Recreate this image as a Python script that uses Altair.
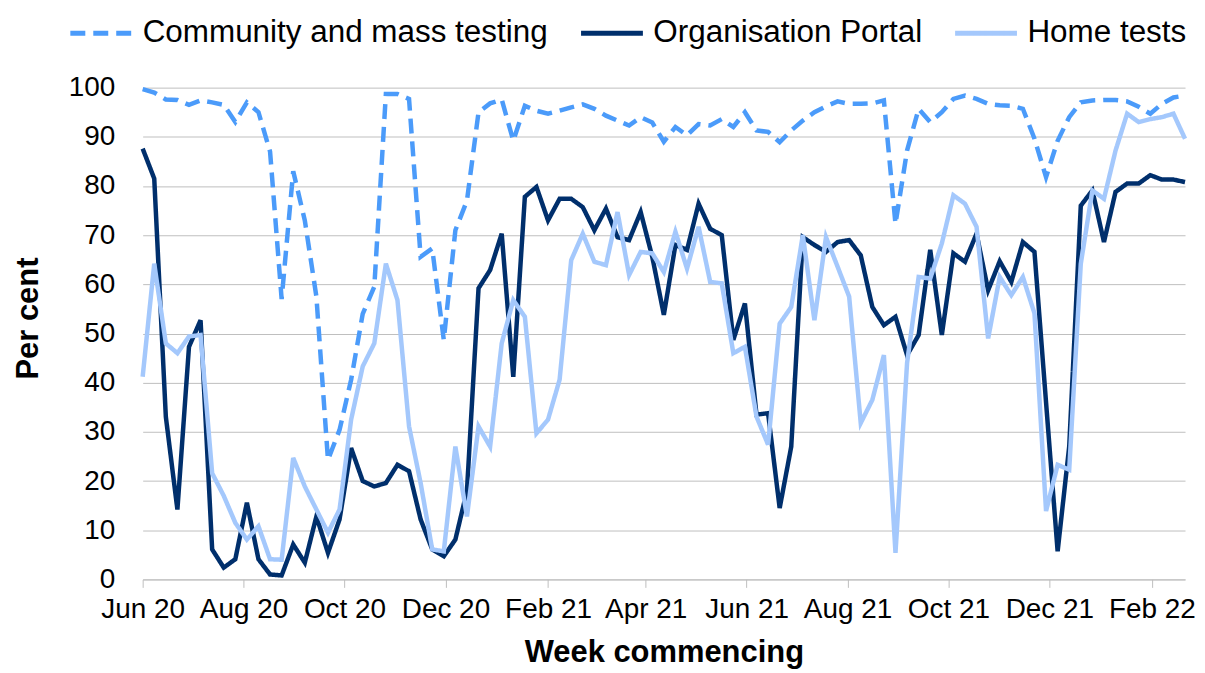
import altair as alt
import pandas as pd

# Weekly periods (week commencing), first week at the June 2020 axis start
weeks = pd.date_range("2020-06-01", periods=91, freq="7D").strftime("%Y-%m-%d").tolist()

community = [99.7, 99.0, 97.6, 97.5, 96.5, 97.4, 97.0, 96.5, 93.0, 97.0,
             95.0, 87.0, 57.0, 83.0, 73.0, 57.5, 24.3, 30.4, 40.6, 54.0,
             59.5, 98.7, 98.7, 97.7, 65.6, 67.3, 48.7, 71.0, 77.0, 95.0,
             96.8, 97.6, 89.2, 96.3, 95.3, 94.7, 95.3, 96.0, 96.6, 95.7,
             94.3, 93.3, 92.3, 94.0, 92.9, 89.0, 92.0, 90.3, 92.6, 92.3,
             93.6, 92.0, 95.0, 91.3, 91.0, 88.9, 91.3, 93.3, 95.0, 96.2,
             97.2, 96.7, 96.7, 96.8, 97.4, 72.3, 87.2, 95.7, 93.0, 95.0,
             97.7, 98.4, 97.7, 96.7, 96.4, 96.3, 95.7, 89.6, 81.8, 89.2,
             94.0, 97.0, 97.4, 97.5, 97.5, 97.2, 96.1, 94.7, 96.7, 98.0,
             98.4]

portal = [87.6, 81.5, 33.1, 14.2, 47.3, 52.7, 6.1, 2.4, 4.1, 15.6,
          4.1, 1.0, 0.8, 7.1, 3.4, 12.8, 5.4, 12.2, 26.7, 20.0,
          18.9, 19.6, 23.3, 22.0, 12.2, 6.1, 4.7, 8.1, 18.0, 59.2,
          62.9, 70.3, 41.2, 77.8, 79.8, 73.0, 77.4, 77.4, 75.7, 71.0,
          75.4, 69.6, 69.0, 74.7, 65.6, 53.8, 68.0, 67.0, 76.4, 71.3,
          70.0, 48.7, 56.1, 33.5, 33.8, 14.5, 27.0, 69.6, 68.0, 66.6,
          68.6, 69.0, 65.9, 55.4, 51.7, 53.4, 45.6, 49.7, 67.0, 49.7,
          66.3, 64.6, 70.3, 58.8, 64.7, 60.5, 68.6, 66.6, 36.0, 5.7,
          27.0, 76.0, 79.1, 68.6, 78.8, 80.5, 80.5, 82.2, 81.3, 81.3,
          80.8]

home = [41.2, 64.2, 48.0, 46.0, 49.4, 49.7, 21.6, 17.0, 11.5, 8.1,
        10.8, 4.1, 4.0, 24.7, 18.9, 14.2, 9.5, 14.2, 32.5, 43.3,
        48.0, 64.2, 56.8, 31.1, 19.6, 6.1, 5.7, 27.0, 12.8, 31.1,
        27.0, 48.0, 56.8, 53.4, 29.7, 32.5, 40.6, 64.9, 70.3, 64.6,
        63.9, 74.7, 61.9, 66.6, 66.3, 62.5, 70.7, 63.2, 71.7, 60.5,
        60.2, 46.0, 47.3, 33.1, 27.4, 52.0, 55.4, 70.0, 52.7, 69.6,
        63.6, 57.5, 31.8, 36.5, 45.6, 5.4, 44.0, 61.5, 61.2, 68.3,
        78.1, 76.4, 71.7, 49.0, 61.5, 57.8, 61.5, 54.1, 13.9, 23.3,
        22.3, 64.2, 79.1, 77.4, 87.2, 94.7, 93.0, 93.6, 94.0, 94.7,
        89.6]

series_names = ["Community and mass testing", "Organisation Portal", "Home tests"]
series_colors = ["#4B9BFA", "#002F6C", "#A4C8FC"]
series_dash = [[15, 8], [1, 0], [1, 0]]
tick_months = [(2020, 6), (2020, 8), (2020, 10), (2020, 12), (2021, 2), (2021, 4),
               (2021, 6), (2021, 8), (2021, 10), (2021, 12), (2022, 2)]
y_ticks = [0, 10, 20, 30, 40, 50, 60, 70, 80, 90, 100]

rows = []
for name, vals in zip(series_names, [community, portal, home]):
    for d, v in zip(weeks, vals):
        rows.append({"week": d, "series": name, "value": v})
df = pd.DataFrame(rows)

FONT = "Liberation Sans"

x_enc = alt.X(
    "week:T",
    scale=alt.Scale(
        type="utc",
        nice=False,
        domain=[alt.DateTime(year=2020, month=6, date=1, utc=True),
                alt.DateTime(year=2022, month=2, date=21, utc=True)],
    ),
    axis=alt.Axis(
        values=[alt.DateTime(year=y, month=m, date=1, utc=True) for y, m in tick_months],
        labelExpr="utcFormat(datum.value, '%b %y')",
        labelOverlap=False,
        labelFlush=False,
        labelFontSize=28,
        labelFont=FONT,
        labelColor="#000000",
        labelPadding=8,
        tickSize=8,
        tickColor="#BFBFBF",
        domainColor="#BFBFBF",
        grid=False,
        title="Week commencing",
        titleFont=FONT,
        titleFontSize=31,
        titleFontWeight="bold",
        titleColor="#000000",
        titlePadding=14,
    ),
)

y_enc = alt.Y(
    "value:Q",
    scale=alt.Scale(domain=[0, 100], nice=False),
    axis=alt.Axis(
        values=y_ticks,
        grid=True,
        gridColor="#BFBFBF",
        domain=False,
        ticks=False,
        labelFontSize=28,
        labelFont=FONT,
        labelColor="#000000",
        labelPadding=28,
        title="Per cent",
        titleFont=FONT,
        titleFontSize=31,
        titleFontWeight="bold",
        titleColor="#000000",
        titlePadding=24,
        titleY=231,
    ),
)

color_enc = alt.Color("series:N", scale=alt.Scale(domain=series_names, range=series_colors),
                      legend=alt.Legend(title=None))
dash_enc = alt.StrokeDash("series:N", scale=alt.Scale(domain=series_names, range=series_dash),
                          legend=alt.Legend(title=None))

base = alt.Chart(df).mark_line(strokeWidth=4.5).encode(
    x=x_enc, y=y_enc, color=color_enc, strokeDash=dash_enc
)

layers = [base.transform_filter(alt.datum.series == name) for name in series_names]

chart = alt.layer(*layers).properties(
    width=1045,
    height=493,
    autosize=alt.AutoSizeParams(type="none"),
    padding={"left": 135, "top": 79, "right": 12, "bottom": 92},
).configure_view(
    stroke=None
).configure_legend(
    orient="none",
    legendX=-75,
    legendY=-88,
    direction="horizontal",
    symbolType="stroke",
    symbolSize=3844,
    symbolStrokeWidth=5,
    labelFontSize=31.5,
    labelFont=FONT,
    labelColor="#000000",
    labelOffset=8,
    labelLimit=800,
    columnPadding=22,
    padding=0,
)

chart.save("out.html", embed_options={"renderer": "svg", "actions": False})
